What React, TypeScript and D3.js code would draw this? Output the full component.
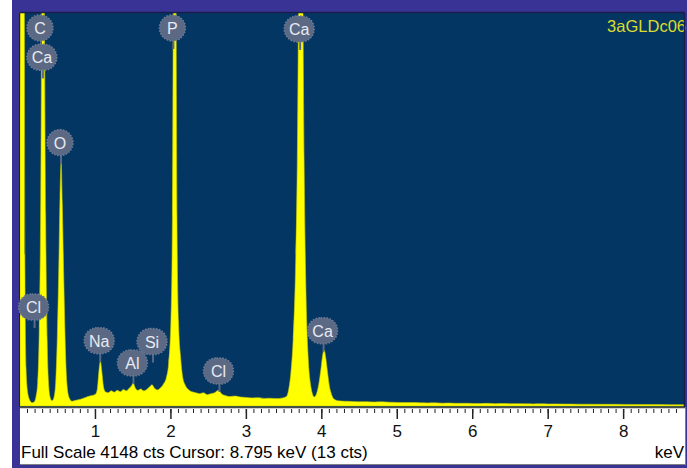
import React from 'react';
import * as d3 from 'd3';

// spectrum (keV, counts)
const energies = [
  0.0, 0.02, 0.035, 0.05, 0.065, 0.08, 0.1, 0.13, 0.16, 0.19,
  0.21, 0.235, 0.255, 0.275, 0.29, 0.305, 0.32, 0.34, 0.36, 0.38, 0.4, 0.425,
  0.45, 0.475, 0.495, 0.515, 0.53, 0.545, 0.56, 0.58, 0.6, 0.62, 0.65, 0.69, 0.74,
  0.8, 0.85, 0.9, 0.95, 1.0,
  1.025, 1.045, 1.065, 1.085, 1.105, 1.13, 1.17, 1.21, 1.25, 1.29, 1.33, 1.37, 1.41, 1.45,
  1.48, 1.5, 1.525, 1.56, 1.6, 1.64, 1.68, 1.715, 1.75, 1.78, 1.82, 1.86, 1.9,
  1.94, 1.97, 2.0, 2.02, 2.035, 2.05, 2.065, 2.08, 2.1, 2.13, 2.155, 2.19, 2.23, 2.28,
  2.33, 2.38, 2.43, 2.48, 2.53, 2.58, 2.63, 2.67, 2.72, 2.78, 2.85, 2.92, 3.0, 3.08,
  3.16, 3.24, 3.32, 3.4, 3.48, 3.53,
  3.56, 3.59, 3.62, 3.65, 3.675, 3.7, 3.72, 3.74, 3.765, 3.79, 3.82, 3.85, 3.875, 3.9,
  3.93, 3.96, 3.99, 4.01, 4.03, 4.05, 4.075, 4.1, 4.13, 4.16, 4.22, 4.3,
  4.4, 4.5, 4.6, 4.7, 4.8, 4.9, 5.0, 5.1, 5.2, 5.3, 5.4, 5.5, 5.6, 5.7, 5.8, 5.9,
  6.0, 6.1, 6.2, 6.3, 6.4, 6.5, 6.6, 6.7, 6.8, 6.9, 7.0, 7.1, 7.2, 7.4, 7.6, 7.8,
  8.0, 8.2, 8.4, 8.6, 8.8
];
const counts = [
  3000, 9000, 12000, 8000, 1500, 400, 150, 60, 35, 45,
  90, 250, 800, 2200, 4500, 6200, 4600, 2000, 700, 220, 90, 55,
  90, 280, 750, 1500, 2200, 2571, 2150, 1350, 650, 250, 90, 50, 60,
  70, 85, 100, 110, 125,
  180, 360, 470, 360, 210, 150, 140, 160, 145, 165, 150, 175, 160, 190,
  215, 243, 195, 165, 180, 160, 175, 200, 225, 190, 170, 190, 230,
  300, 450, 900, 2000, 5000, 7200, 5000, 2000, 900, 500, 310, 220, 175, 150,
  140, 130, 140, 120, 130, 140, 165, 130, 110, 100, 105, 95, 90, 85,
  88, 80, 82, 78, 85, 100,
  170, 350, 700, 1400, 2600, 5200, 7200, 5300, 2600, 1200, 500, 230, 130, 95,
  130, 230, 400, 530, 592, 520, 360, 210, 120, 75, 55, 50,
  48, 45, 46, 42, 44, 40, 38, 36, 37, 34, 32, 33, 30, 31, 28, 29,
  27, 26, 28, 25, 26, 24, 25, 23, 22, 23, 21, 22, 20, 19, 18, 18,
  17, 16, 15, 14, 14
];

// element markers: name, line energy (keV), height of the badge (counts)
const labelNames = ['C', 'Ca', 'O', 'Cl', 'Na', 'Al', 'Si', 'P', 'Cl', 'Ca', 'Ca'];
const labelEnergies = [0.265, 0.29, 0.53, 0.18, 1.05, 1.49, 1.75, 2.02, 2.63, 3.70, 4.01];
const labelCounts = [3990, 3680, 2780, 1045, 690, 455, 680, 3990, 370, 3980, 795];

const majorTicks = [1, 2, 3, 4, 5, 6, 7, 8];
const minorTicks = d3.range(1, 88).map(i => i / 10);

const fullScale = 4148;
const sampleName = '3aGLDc06';
const statusText = 'Full Scale 4148 cts Cursor: 8.795 keV (13 cts)';

const W = 687;
const H = 468;
const left = 20, right = 684, top = 13, bottom = 407, axisBottom = 464;
const font = "'Liberation Sans', Arial, sans-serif";

export default function App() {
  const x = d3.scaleLinear().domain([0, 8.8]).range([left, right]);
  const y = d3.scaleLinear().domain([0, fullScale]).range([bottom - 1, top]);

  const points = energies.map((e, i) => [e, counts[i]] as [number, number]);
  const area = d3.area<[number, number]>()
    .x(d => x(d[0]))
    .y0(bottom - 1)
    .y1(d => y(d[1]))
    .curve(d3.curveMonotoneX);

  return (
    <svg width={W} height={H} style={{ position: 'absolute', left: 0, top: 0, display: 'block' }}>
      <defs>
        <clipPath id="plotClip">
          <rect x={left} y={top} width={right - left} height={bottom - top} />
        </clipPath>
      </defs>
      <rect x={0} y={0} width={W} height={H} fill="#ffffff" />
      {/* purple frame */}
      <rect x={12} y={0} width={W - 12} height={H} fill="#3a3396" />
      {/* plot background */}
      <rect x={left} y={top} width={right - left} height={bottom - top} fill="#043663" />
      <path d={area(points) || ''} fill="#ffff00" stroke="#c8c800" strokeWidth={0.6} clipPath="url(#plotClip)" />

      <text x={right + 2} y={32} textAnchor="end" fontFamily={font} fontSize={16.5} fill="#dcdc2c">{sampleName}</text>

      {/* borders */}
      <line x1={left} x2={right + 1} y1={top - 0.5} y2={top - 0.5} stroke="#1a1d4c" strokeWidth={1.5} />
      <line x1={left - 0.5} x2={left - 0.5} y1={top} y2={bottom} stroke="#1a1d4c" strokeWidth={1} />
      <line x1={right + 0.5} x2={right + 0.5} y1={top} y2={bottom} stroke="#1a1d4c" strokeWidth={1.5} />

      {/* axis area */}
      <rect x={left} y={bottom} width={right - left + 1} height={axisBottom - bottom} fill="#ffffff" />
      <line x1={left} x2={right + 1} y1={bottom + 0.5} y2={bottom + 0.5} stroke="#4a4a4a" strokeWidth={1.5} />
      <line x1={left} x2={right + 1} y1={axisBottom + 0.5} y2={axisBottom + 0.5} stroke="#808080" strokeWidth={1} />
      <line x1={right + 1.5} x2={right + 1.5} y1={bottom} y2={axisBottom + 1} stroke="#808080" strokeWidth={1} />

      {minorTicks.map(t => (
        <line key={'m' + t} x1={x(t)} x2={x(t)} y1={bottom + 2} y2={bottom + 6} stroke="#222" strokeWidth={1} />
      ))}
      {majorTicks.map(t => (
        <g key={'t' + t}>
          <line x1={x(t)} x2={x(t)} y1={bottom + 2} y2={bottom + 12} stroke="#222" strokeWidth={1.5} />
          <text x={x(t)} y={437} textAnchor="middle" fontFamily={font} fontSize={17} fill="#111">{t}</text>
        </g>
      ))}

      <text x={left + 1} y={458} fontFamily={font} fontSize={17} fill="#000">{statusText}</text>
      <text x={right} y={458} textAnchor="end" fontFamily={font} fontSize={17} fill="#000">keV</text>

      {/* element badges */}
      {labelNames.map((name, i) => {
        const cx = x(labelEnergies[i]);
        const cy = y(labelCounts[i]);
        const w = name.length > 1 ? 30 : 26;
        return (
          <g key={'l' + i}>
            <line x1={cx + 1} x2={cx + 1} y1={cy + 12} y2={cy + 21} stroke="#5b6984" strokeWidth={2} />
            <rect x={cx - w / 2} y={cy - 13} width={w} height={26} rx={13} ry={13}
              fill="#5b6984" stroke="#6e7b95" strokeWidth={1.5} strokeDasharray="1.5 1.5" />
            <text x={cx} y={cy + 6} textAnchor="middle" fontFamily={font} fontSize={16} fill="#e8eaf2">{name}</text>
          </g>
        );
      })}
    </svg>
  );
}
